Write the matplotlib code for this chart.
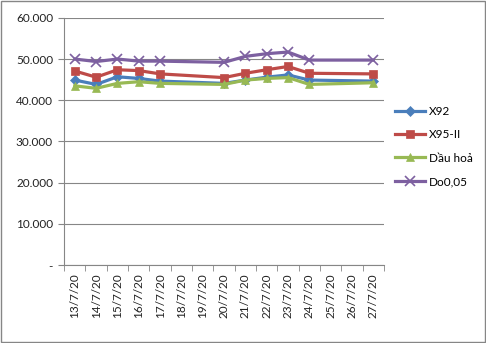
import numpy as np
import matplotlib.pyplot as plt
from matplotlib.patches import Rectangle

plt.rcParams['font.family'] = ['Lato', 'DejaVu Sans']

labels = ["13/7/20", "14/7/20", "15/7/20", "16/7/20", "17/7/20", "18/7/20", "19/7/20",
          "20/7/20", "21/7/20", "22/7/20", "23/7/20", "24/7/20", "25/7/20", "26/7/20", "27/7/20"]
# positions of days that have prices
days = [0, 1, 2, 3, 4, 7, 8, 9, 10, 11, 14]

x92 = [44900, 43850, 45700, 45300, 44650, 44100, 44900, 45600, 46150, 44900, 44650]
x95 = [47100, 45600, 47400, 47200, 46400, 45500, 46550, 47400, 48200, 46550, 46400]
dau_hoa = [43500, 42900, 44100, 44500, 44100, 43850, 44900, 45300, 45500, 43850, 44250]
do005 = [50000, 49400, 50000, 49500, 49500, 49200, 50650, 51300, 51700, 49750, 49750]

series = [
    ("X92", x92, "#4A7EBB", "D", 5),
    ("X95-II", x95, "#BE4B48", "s", 6),
    ("Dầu hoả", dau_hoa, "#98B954", "^", 6),
    ("Do0,05", do005, "#7D60A0", "x", 7),
]

fig = plt.figure(figsize=(4.86, 3.43), dpi=100)
ax = fig.add_axes([0.132, 0.227, 0.658, 0.721])

for name, vals, col, mk, ms in series:
    ax.plot(days, vals, color=col, lw=2.3, marker=mk, markersize=ms,
            markeredgewidth=1.2 if mk == "x" else 0.5, label=name)

ax.set_xlim(-0.5, len(labels) - 0.5)
ax.set_ylim(0, 60000)
ax.set_yticks(np.arange(0, 60001, 10000))
ax.set_yticklabels(["-"] + ["%d.000" % (v // 1000) for v in range(10000, 60001, 10000)],
                   fontsize=8.5, color="#222222")
ax.set_xticks(range(len(labels)))
ax.set_xticklabels(labels, rotation=90, fontsize=8.5, color="#222222")
ax.set_xticks(np.arange(-0.5, len(labels), 1), minor=True)
ax.tick_params(axis="x", which="major", length=0, pad=6)
ax.tick_params(axis="x", which="minor", length=4, color="#868686")
ax.tick_params(axis="y", length=4, color="#868686", pad=4)
ax.grid(axis="y", color="#868686", lw=0.8)
ax.set_axisbelow(True)
for s in ["top", "right"]:
    ax.spines[s].set_visible(False)
for s in ["left", "bottom"]:
    ax.spines[s].set_color("#868686")

ax.legend(loc="center left", bbox_to_anchor=(1.0, 0.48), frameon=False,
          fontsize=8.5, handlelength=2.6, labelspacing=1.05, handletextpad=0.3)

fig.patches.append(Rectangle((0.002, 0.003), 0.995, 0.993, transform=fig.transFigure,
                             fill=False, edgecolor="#868686", lw=1))
fig.savefig("out.png", dpi=100)
